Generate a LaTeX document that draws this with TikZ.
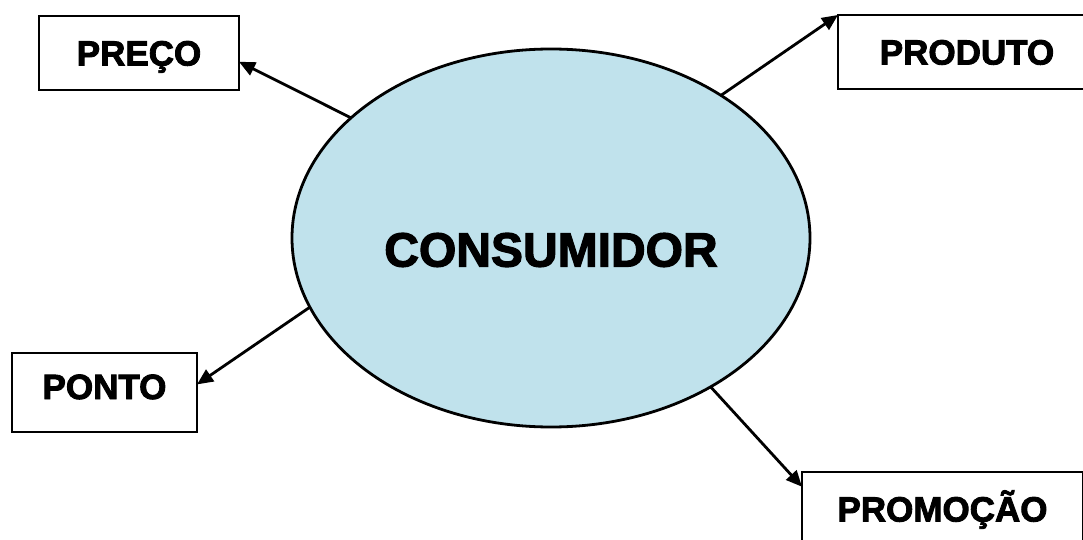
\documentclass[tikz,border=0pt]{standalone}
\usepackage{fontspec}
\setmainfont{Liberation Sans}
\newfontfamily\heavyfont[FakeBold=2.5]{Liberation Sans Bold}
\usetikzlibrary{shapes.geometric,arrows.meta}
\definecolor{consblue}{RGB}{192,226,236}
\begin{document}
\begin{tikzpicture}[x=.5pt,y=-.5pt,
  caixa/.style={draw,line width=1.3pt,inner sep=0pt,outer sep=0pt,
    font=\heavyfont\fontsize{17.5}{20}\selectfont,
    text height=12.5pt,text depth=0pt,minimum height=37pt},
  seta/.style={line width=1.4pt,-{Triangle[length=8pt,width=7pt]}}]
\clip (0,0) rectangle (1083,540);
\node[ellipse,draw,line width=1.4pt,fill=consblue,inner sep=0pt,outer sep=0pt,
      minimum width=259pt,minimum height=189pt] (consumidor) at (551,238) {};
\node[font=\heavyfont\fontsize{24}{28}\selectfont] (consumidortxt)
      at ([yshift=-6pt]consumidor.center) {CONSUMIDOR};
\node[caixa,minimum width=100pt] (preco) at (139,53) {PREÇO};
\node[caixa,minimum width=129pt] (produto) at (967,52) {PRODUTO};
\node[caixa,minimum width=92.5pt,minimum height=39.5pt,text depth=6pt] (ponto) at (104.5,392.5) {PONTO};
\node[caixa,minimum width=140.5pt] (promocao) at (942.5,509) {PROMOÇÃO};
\draw[seta] (consumidor.149) -- (preco.-5);
\draw[seta] (consumidor.40)  -- (produto.north west);
\draw[seta] (consumidor.196) -- (ponto.5);
\draw[seta] (consumidor.-43) -- (promocao.171);
\end{tikzpicture}
\end{document}
